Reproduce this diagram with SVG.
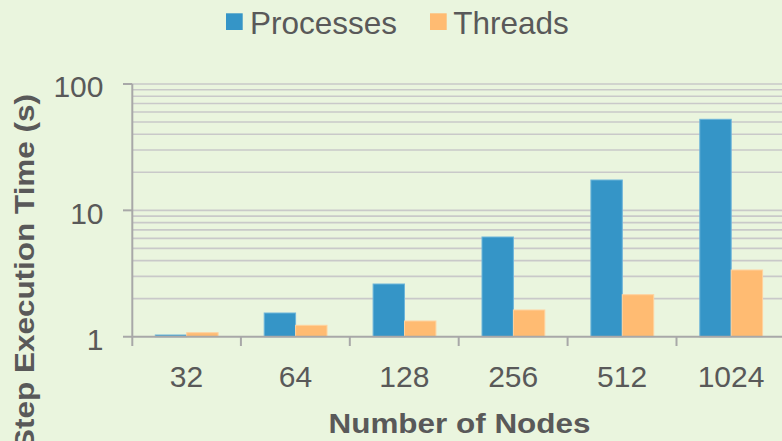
<svg xmlns="http://www.w3.org/2000/svg" width="782" height="441" viewBox="0 0 782 441">
  <style>
    .grid { stroke: #C9C9C9; stroke-width: 1.6; fill: none; }
    .axis { stroke: #A8A8A8; stroke-width: 2; fill: none; }
    .proc { fill: #3595C7; stroke: #6DB5DA; stroke-width: 1; }
    .thr { fill: #FFBB72; stroke: #FFD29E; stroke-width: 1; }
    .tick { font-family: "Liberation Sans", Arial, sans-serif; font-size: 30px; fill: #595959; }
    .legend { font-family: "Liberation Sans", Arial, sans-serif; font-size: 31.5px; fill: #595959; }
    .title { font-family: "Liberation Sans", Arial, sans-serif; font-size: 28px; font-weight: bold; fill: #595959; }
  </style>
  <rect x="0" y="0" width="782" height="441" fill="#EAF5DE"/>

  <g id="gridlines">
    <line class="grid" x1="132.3" y1="298.66" x2="782" y2="298.66"/>
    <line class="grid" x1="132.3" y1="276.41" x2="782" y2="276.41"/>
    <line class="grid" x1="132.3" y1="260.63" x2="782" y2="260.63"/>
    <line class="grid" x1="132.3" y1="248.39" x2="782" y2="248.39"/>
    <line class="grid" x1="132.3" y1="238.38" x2="782" y2="238.38"/>
    <line class="grid" x1="132.3" y1="229.92" x2="782" y2="229.92"/>
    <line class="grid" x1="132.3" y1="222.59" x2="782" y2="222.59"/>
    <line class="grid" x1="132.3" y1="216.13" x2="782" y2="216.13"/>
    <line class="grid" x1="132.3" y1="210.35" x2="782" y2="210.35"/>
    <line class="grid" x1="132.3" y1="172.31" x2="782" y2="172.31"/>
    <line class="grid" x1="132.3" y1="150.06" x2="782" y2="150.06"/>
    <line class="grid" x1="132.3" y1="134.28" x2="782" y2="134.28"/>
    <line class="grid" x1="132.3" y1="122.04" x2="782" y2="122.04"/>
    <line class="grid" x1="132.3" y1="112.03" x2="782" y2="112.03"/>
    <line class="grid" x1="132.3" y1="103.57" x2="782" y2="103.57"/>
    <line class="grid" x1="132.3" y1="96.24" x2="782" y2="96.24"/>
    <line class="grid" x1="132.3" y1="89.78" x2="782" y2="89.78"/>
    <line class="grid" x1="132.3" y1="84.0" x2="782" y2="84.0"/>
  </g>

  <g id="bars-32">
    <rect class="proc" x="155.3" y="335" width="31.4" height="1.7"/>
    <rect class="thr" x="186.7" y="332.7" width="31.4" height="4"/>
  </g>
  <g id="bars-64">
    <rect class="proc" x="264.2" y="313" width="31.4" height="23.7"/>
    <rect class="thr" x="295.6" y="325.3" width="31.4" height="11.4"/>
  </g>
  <g id="bars-128">
    <rect class="proc" x="373.1" y="284" width="31.4" height="52.7"/>
    <rect class="thr" x="404.5" y="321" width="31.4" height="15.7"/>
  </g>
  <g id="bars-256">
    <rect class="proc" x="482.0" y="237" width="31.4" height="99.7"/>
    <rect class="thr" x="513.4" y="310" width="31.4" height="26.7"/>
  </g>
  <g id="bars-512">
    <rect class="proc" x="590.9" y="180" width="31.4" height="156.7"/>
    <rect class="thr" x="622.3" y="294.7" width="31.4" height="42"/>
  </g>
  <g id="bars-1024">
    <rect class="proc" x="699.8" y="119.3" width="31.4" height="217.4"/>
    <rect class="thr" x="731.2" y="270" width="31.4" height="66.7"/>
  </g>

  <g id="axes">
    <line class="axis" x1="132.3" y1="84" x2="132.3" y2="346"/>
    <line class="axis" x1="123" y1="336.7" x2="782" y2="336.7"/>
    <line class="axis" x1="123" y1="84" x2="132.3" y2="84"/>
    <line class="axis" x1="123" y1="210.35" x2="132.3" y2="210.35"/>
    <line class="axis" x1="240.9" y1="336.7" x2="240.9" y2="346"/>
    <line class="axis" x1="349.8" y1="336.7" x2="349.8" y2="346"/>
    <line class="axis" x1="458.7" y1="336.7" x2="458.7" y2="346"/>
    <line class="axis" x1="567.6" y1="336.7" x2="567.6" y2="346"/>
    <line class="axis" x1="676.5" y1="336.7" x2="676.5" y2="346"/>
  </g>

  <g id="y-labels">
    <text class="tick" x="103.5" y="97" text-anchor="end">100</text>
    <text class="tick" x="103.5" y="223.5" text-anchor="end">10</text>
    <text class="tick" x="103.5" y="350" text-anchor="end">1</text>
  </g>

  <g id="x-labels">
    <text class="tick" x="186.5" y="387.3" text-anchor="middle">32</text>
    <text class="tick" x="295.4" y="387.3" text-anchor="middle">64</text>
    <text class="tick" x="404.3" y="387.3" text-anchor="middle">128</text>
    <text class="tick" x="513.2" y="387.3" text-anchor="middle">256</text>
    <text class="tick" x="622.1" y="387.3" text-anchor="middle">512</text>
    <text class="tick" x="731.0" y="387.3" text-anchor="middle">1024</text>
  </g>

  <g id="x-title">
    <text class="title" x="459.5" y="433.3" text-anchor="middle" textLength="262" lengthAdjust="spacingAndGlyphs">Number of Nodes</text>
  </g>

  <g id="y-title">
    <text class="title" transform="translate(33.5,272) rotate(-90)" x="0" y="0" text-anchor="middle" textLength="356" lengthAdjust="spacingAndGlyphs">Step Execution Time (s)</text>
  </g>

  <g id="legend">
    <rect x="226" y="13.3" width="16.7" height="16.7" fill="#3595C7"/>
    <text class="legend" x="250" y="34.3">Processes</text>
    <rect x="430" y="13.3" width="16.7" height="16.7" fill="#FFBB72"/>
    <text class="legend" x="453.3" y="34.3">Threads</text>
  </g>
</svg>
